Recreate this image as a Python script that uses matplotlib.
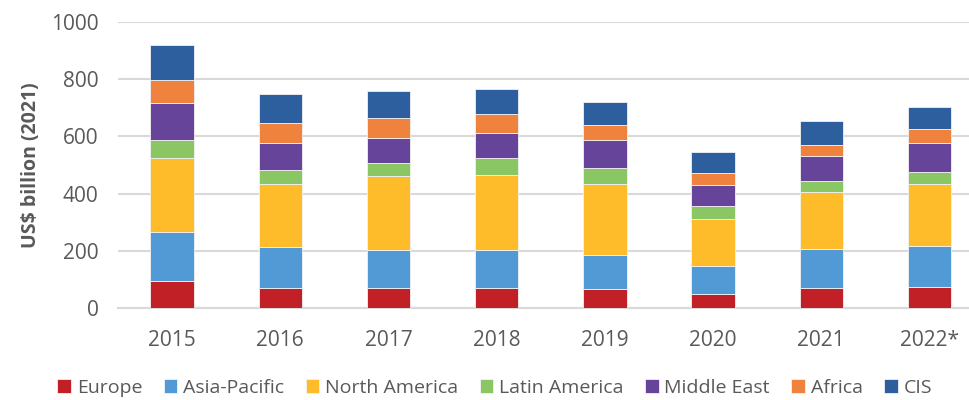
import numpy as np
import matplotlib
matplotlib.use("Agg")
import matplotlib.pyplot as plt

plt.rcParams['font.family'] = ['Open Sans', 'DejaVu Sans']

years = ['2015', '2016', '2017', '2018', '2019', '2020', '2021', '2022*']
regions = ['Europe', 'Asia-Pacific', 'North America', 'Latin America',
           'Middle East', 'Africa', 'CIS']

europe = [94, 69, 69, 69, 67, 50, 69, 74]
asia_pacific = [172, 146, 133, 133, 117, 96, 136, 142]
north_america = [257, 218, 259, 262, 248, 165, 199, 216]
latin_america = [64, 51, 47, 61, 58, 45, 39, 43]
middle_east = [129, 94, 85, 88, 97, 74, 88, 103]
africa = [82, 70, 71, 67, 53, 43, 40, 48]
cis = [122, 101, 93, 87, 80, 71, 83, 77]

series = [europe, asia_pacific, north_america, latin_america,
          middle_east, africa, cis]
colors = ['#C02026', '#529AD5', '#FEBC2A', '#8BC664',
          '#65449A', '#EF823D', '#2D5F9F']

fig = plt.figure(figsize=(9.7, 4.0), dpi=100)
ax = fig.add_axes([118 / 970, 92 / 400, 852 / 970, 286 / 400])

x = np.arange(len(years))
bottom = np.zeros(len(years))
for name, vals, col in zip(regions, series, colors):
    ax.bar(x, vals, 0.4, bottom=bottom, color=col, label=name,
           edgecolor='#F2F2F2', linewidth=0.6, zorder=3)
    bottom += np.array(vals)

ax.set_xlim(-0.5, -0.5 + 852 / 108.2)
ax.set_ylim(0, 1000)
ax.set_yticks(range(0, 1001, 200))
ax.grid(axis='y', color='#D9D9D9', linewidth=1.5, zorder=0)
for s in ['top', 'right', 'left']:
    ax.spines[s].set_visible(False)
ax.spines['bottom'].set_color('#D9D9D9')
ax.spines['bottom'].set_linewidth(1.5)
ax.tick_params(axis='both', length=0, labelsize=15, colors='#595959')
ax.tick_params(axis='y', pad=14)
ax.tick_params(axis='x', pad=16)
ax.set_xticks(x)
ax.set_xticklabels(years)

ax.set_ylabel('US$ billion (2021)', fontsize=14, fontweight='bold',
              color='#595959', labelpad=7)

fig.legend(loc='center', bbox_to_anchor=(0.51, 0.03), ncol=7, frameon=False,
           fontsize=14, labelcolor='#595959', handlelength=0.7,
           handleheight=0.7, handletextpad=0.3, columnspacing=1.1)

fig.savefig('out.png', dpi=100)
